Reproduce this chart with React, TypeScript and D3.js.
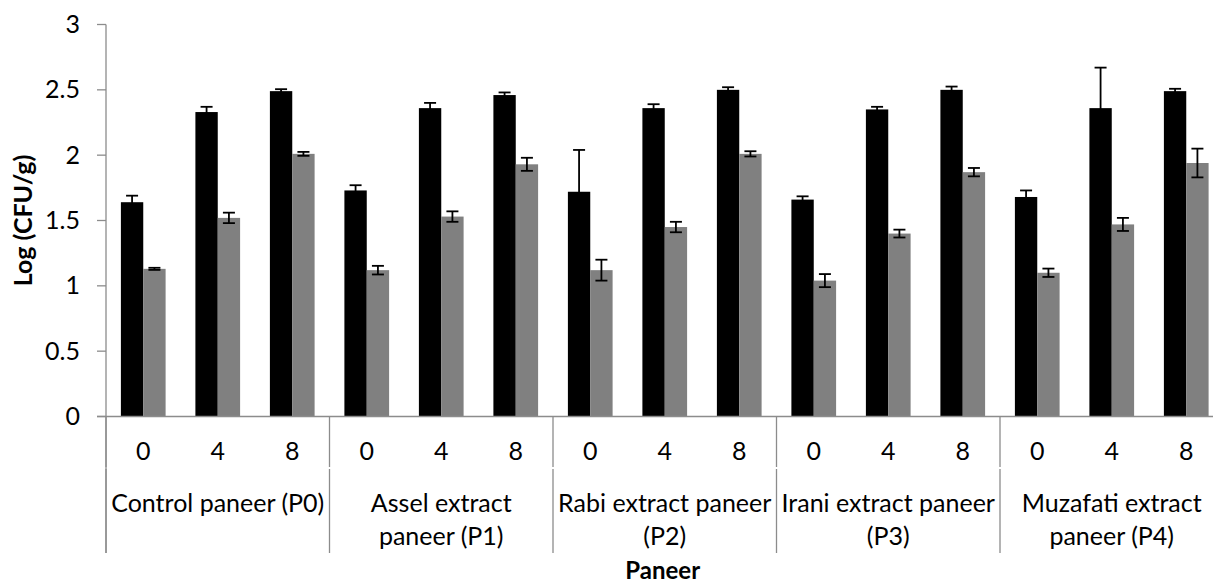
import React, { useEffect, useRef } from 'react';
import * as d3 from 'd3';

// categories: storage day within each paneer type
const paneerGroups = [
  ['Control paneer (P0)'],
  ['Assel extract', 'paneer (P1)'],
  ['Rabi extract paneer', '(P2)'],
  ['Irani extract paneer', '(P3)'],
  ['Muzafati extract', 'paneer (P4)'],
];
const days = ['0', '4', '8'];

// black series
const blackValues = [1.64, 2.33, 2.49, 1.73, 2.36, 2.46, 1.72, 2.36, 2.5, 1.66, 2.35, 2.5, 1.68, 2.36, 2.49];
const blackErrors = [0.05, 0.04, 0.015, 0.04, 0.04, 0.02, 0.32, 0.03, 0.02, 0.025, 0.02, 0.025, 0.05, 0.31, 0.018];
// grey series
const greyValues = [1.13, 1.52, 2.01, 1.12, 1.53, 1.93, 1.12, 1.45, 2.01, 1.04, 1.4, 1.87, 1.1, 1.47, 1.94];
const greyErrors = [0.008, 0.04, 0.015, 0.033, 0.04, 0.05, 0.08, 0.04, 0.02, 0.05, 0.03, 0.032, 0.032, 0.05, 0.11];

const yTicks = [0, 0.5, 1, 1.5, 2, 2.5, 3];

const W = 1213;
const H = 585;
const FONT = 'Lato, "Liberation Sans", sans-serif';

export default function App() {
  const svgRef = useRef<SVGSVGElement>(null);

  useEffect(() => {
    if (!svgRef.current) return;
    const svg = d3.select(svgRef.current);
    svg.selectAll('*').remove();

    const left = 106;
    const top = 24.5;
    const bottom = 416.5;
    const step = 74.5;
    const nCat = paneerGroups.length * days.length;
    const right = left + nCat * step;

    const cats = d3.range(nCat).map(String);
    const x = d3.scaleBand<string>().domain(cats).range([left, right]).paddingInner(0.4).paddingOuter(0.2);
    const sub = d3.scaleBand<string>().domain(['b', 'g']).range([0, x.bandwidth()]);
    const y = d3.scaleLinear().domain([0, 3]).range([bottom, top]);

    const axisColor = '#8c8c8c';

    // y axis
    svg.append('line')
      .attr('x1', left).attr('x2', left)
      .attr('y1', top).attr('y2', 553)
      .attr('stroke', axisColor).attr('stroke-width', 1.3);
    yTicks.forEach(t => {
      svg.append('line')
        .attr('x1', left - 9).attr('x2', left)
        .attr('y1', y(t)).attr('y2', y(t))
        .attr('stroke', axisColor).attr('stroke-width', 1.3);
      svg.append('text')
        .attr('x', 80).attr('y', y(t) + 8.5)
        .attr('text-anchor', 'end')
        .attr('font-family', FONT).attr('font-size', 25).attr('fill', '#000')
        .text(String(t));
    });

    const series = [
      { key: 'b', values: blackValues, errors: blackErrors, color: '#000000' },
      { key: 'g', values: greyValues, errors: greyErrors, color: '#808080' },
    ];

    series.forEach(s => {
      svg.append('g')
        .selectAll('rect')
        .data(s.values)
        .enter()
        .append('rect')
        .attr('x', (_d, i) => (x(cats[i]) as number) + (sub(s.key) as number))
        .attr('y', d => y(d))
        .attr('width', sub.bandwidth())
        .attr('height', d => bottom - y(d))
        .attr('fill', s.color);
    });

    // error bars
    series.forEach(s => {
      const g = svg.append('g').attr('stroke', '#000').attr('stroke-width', 1.8);
      s.values.forEach((v, i) => {
        const cx = (x(cats[i]) as number) + (sub(s.key) as number) + sub.bandwidth() / 2;
        const e = s.errors[i];
        const y1 = y(v + e);
        const y2 = y(v - e);
        g.append('line').attr('x1', cx).attr('x2', cx).attr('y1', y1).attr('y2', y2);
        g.append('line').attr('x1', cx - 6).attr('x2', cx + 6).attr('y1', y1).attr('y2', y1);
        g.append('line').attr('x1', cx - 6).attr('x2', cx + 6).attr('y1', y2).attr('y2', y2);
      });
    });

    // x axis line
    svg.append('line')
      .attr('x1', left - 9).attr('x2', right)
      .attr('y1', bottom).attr('y2', bottom)
      .attr('stroke', axisColor).attr('stroke-width', 1.3);

    // group separators
    d3.range(paneerGroups.length + 1).forEach(k => {
      const sx = left + k * days.length * step;
      svg.append('line')
        .attr('x1', sx).attr('x2', sx).attr('y1', bottom).attr('y2', 467)
        .attr('stroke', axisColor).attr('stroke-width', 1.3);
      svg.append('line')
        .attr('x1', sx).attr('x2', sx).attr('y1', 469).attr('y2', 553)
        .attr('stroke', axisColor).attr('stroke-width', 1.3);
    });

    // day labels
    cats.forEach((c, i) => {
      svg.append('text')
        .attr('x', (x(c) as number) + x.bandwidth() / 2)
        .attr('y', 459.5)
        .attr('text-anchor', 'middle')
        .attr('font-family', FONT).attr('font-size', 25)
        .text(days[i % days.length]);
    });

    // group labels
    paneerGroups.forEach((lines, k) => {
      const cx = left + (k + 0.5) * days.length * step;
      lines.forEach((ln, j) => {
        svg.append('text')
          .attr('x', cx)
          .attr('y', 511.5 + j * 33.5)
          .attr('text-anchor', 'middle')
          .attr('font-family', FONT).attr('font-size', 25)
          .text(ln);
      });
    });

    // axis titles
    svg.append('text')
      .attr('transform', `translate(32,${(top + bottom) / 2}) rotate(-90)`)
      .attr('text-anchor', 'middle')
      .attr('font-family', FONT).attr('font-size', 25).attr('font-weight', 'bold')
      .text('Log (CFU/g)');
    svg.append('text')
      .attr('x', (left + right) / 2 - 2)
      .attr('y', 579)
      .attr('text-anchor', 'middle')
      .attr('font-family', FONT).attr('font-size', 24).attr('font-weight', 'bold')
      .text('Paneer');
  }, []);

  return (
    <svg
      ref={svgRef}
      width={W}
      height={H}
      style={{ position: 'absolute', left: 0, top: 0, background: '#fff', display: 'block' }}
    ></svg>
  );
}
